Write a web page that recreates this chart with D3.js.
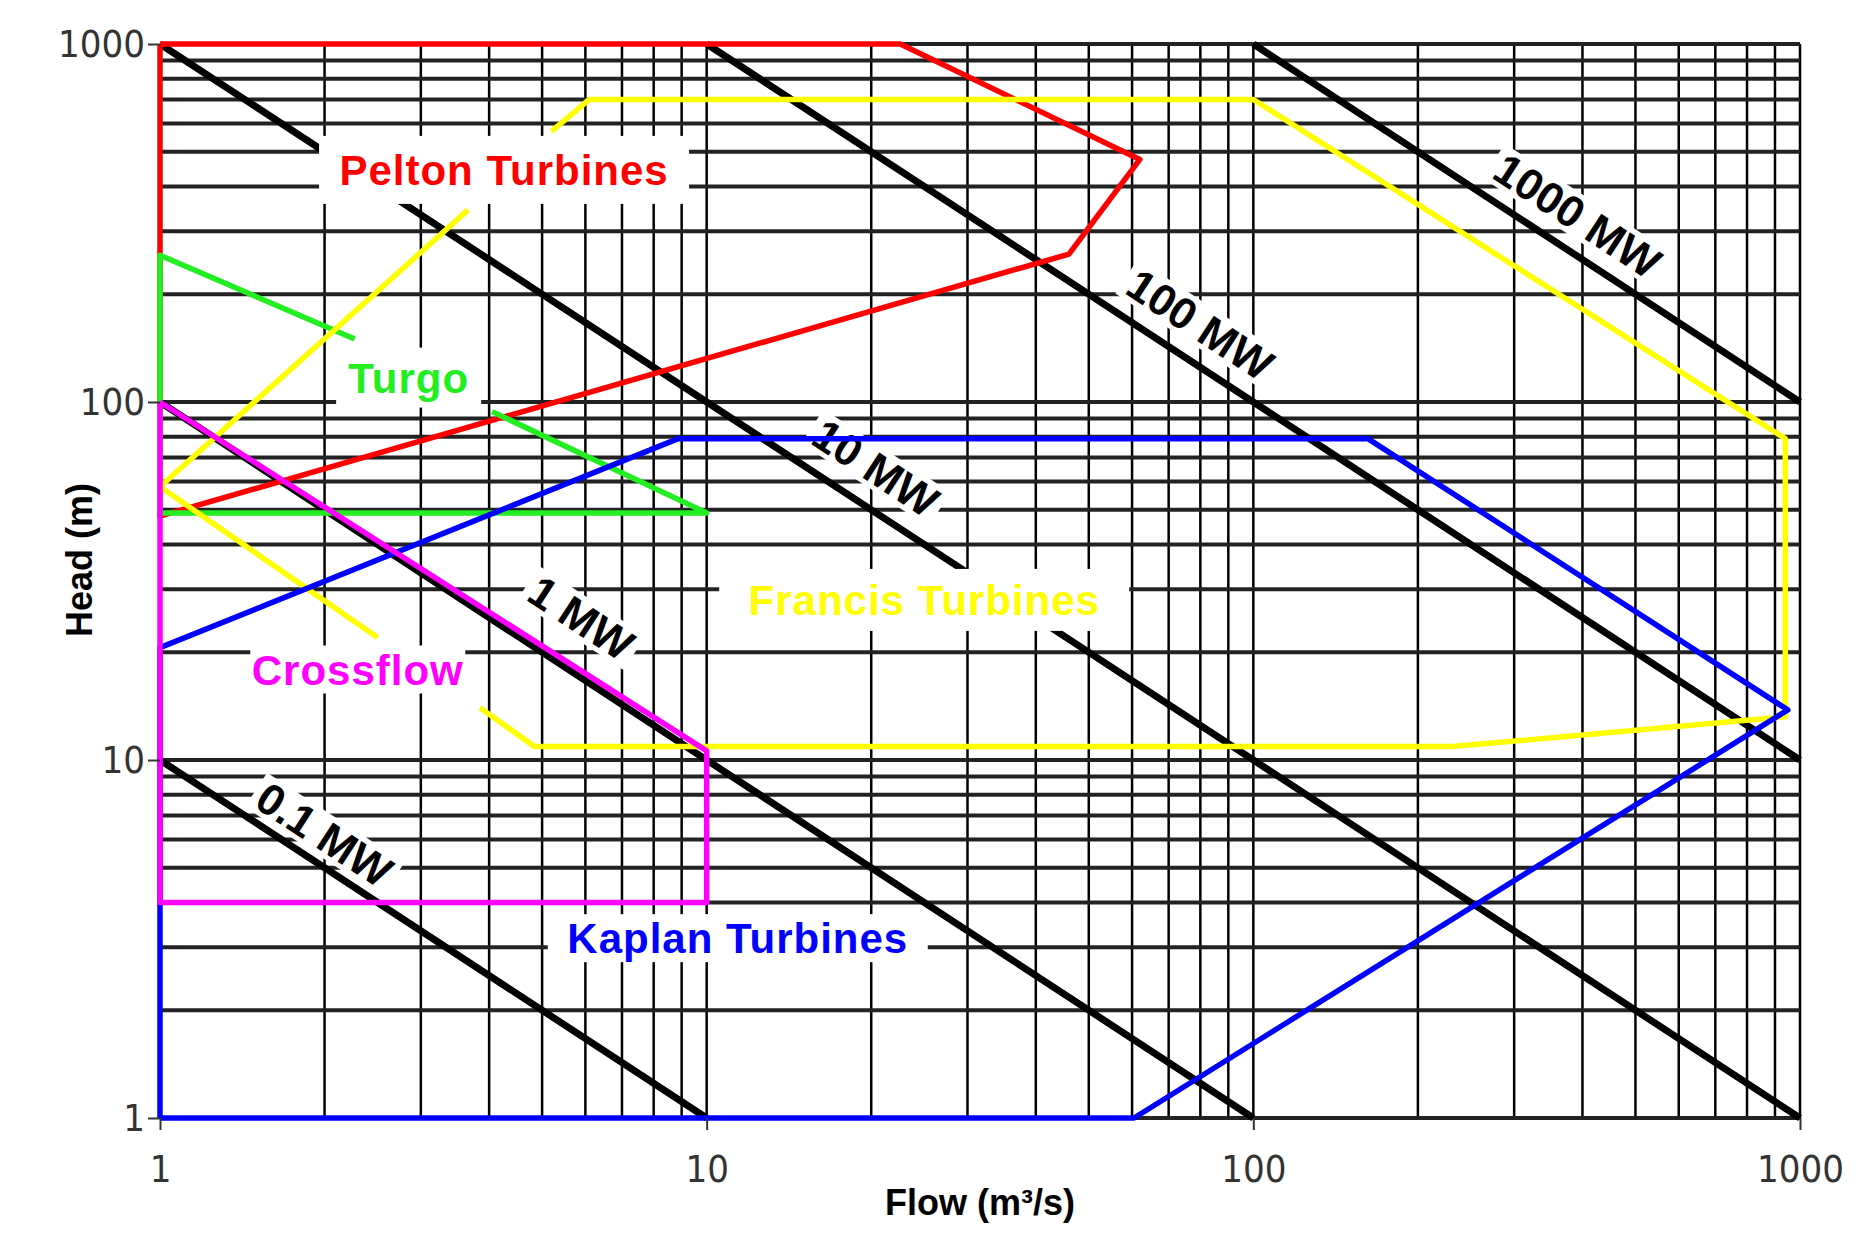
<!DOCTYPE html><html><head><meta charset="utf-8"><script src="https://cdn.jsdelivr.net/npm/d3@7"></script>
<style>body{margin:0;background:#fff}</style></head><body><svg id="c" width="1875" height="1258"></svg>
<script>
const xTicks=[1,10,100,1000], yTicks=[1,10,100,1000];
const powerLines=[[[1,10],[10,1]],[[1,100],[100,1]],[[1,1000],[1000,1]],[[10,1000],[1000,10]],[[100,1000],[1000,100]]];
const pelton=[[1,1000],[22.6,1000],[62,476],[46,259],[1,48],[1,1000]];
const turgoA=[[2.27,150],[1,257],[1,49],[10,49],[4.05,94]];
const francisA=[[3.85,14],[4.84,10.9],[231,10.9],[940,13.2],[940,79],[100,700],[6.1,700],[5.2,570]];
const francisB=[[3.66,344],[1,58],[2.5,22]];
const kaplan=[[1,1],[60.5,1],[950,13.8],[162,79],[8.87,79],[1,20.6],[1,1]];
const crossflow=[[1,100],[10,10.6],[10,4],[1,4],[1,100]];
const labels=[
 {t:"Pelton Turbines",x:4.26,y:445,c:"#ff0000",w:370,h:68},
 {t:"Turgo",x:2.85,y:117,c:"#22ee22",w:145,h:60},
 {t:"Francis Turbines",x:25,y:28,c:"#ffff00",w:410,h:62},
 {t:"Crossflow",x:2.3,y:17.9,c:"#ff00ff",w:215,h:48},
 {t:"Kaplan Turbines",x:11.4,y:3.18,c:"#0000ff",w:380,h:48}];
const mwLabels=[{t:"0.1 MW",x:2.0,y:6.2},{t:"1 MW",x:5.9,y:25},{t:"10 MW",x:20.4,y:65.6},{t:"100 MW",x:80,y:165},{t:"1000 MW",x:392,y:332}];

const svg=d3.select("#c");
const L=160,R=1800,T=44,B=1118;
const x=d3.scaleLog().domain([1,1000]).range([L,R]);
const y=d3.scaleLog().domain([1,1000]).range([B,T]);
const g=svg.append("g");
const minor=[];for(let d=1;d<1000;d*=10)for(let k=1;k<10;k++)minor.push(d*k);minor.push(1000);
g.selectAll(".v").data(minor).join("line").attr("x1",d=>x(d)).attr("x2",d=>x(d)).attr("y1",T).attr("y2",B).attr("stroke","#000").attr("stroke-width",2.5);
g.selectAll(".h").data(minor).join("line").attr("y1",d=>y(d)).attr("y2",d=>y(d)).attr("x1",L).attr("x2",R).attr("stroke","#222").attr("stroke-width",4);
const xa=svg.append("g").attr("transform",`translate(0,${B})`).call(d3.axisBottom(x).tickValues(xTicks).tickFormat(d3.format("d")).tickSize(12));
const ya=svg.append("g").attr("transform",`translate(${L},0)`).call(d3.axisLeft(y).tickValues(yTicks).tickFormat(d3.format("d")).tickSize(12));
[xa,ya].forEach(a=>{a.select(".domain").remove();a.selectAll("text").attr("font-family","Liberation Sans Narrow, DejaVu Sans Condensed, sans-serif").attr("font-size",38).attr("fill","#333");a.selectAll("line").attr("stroke","#333").attr("stroke-width",2);});
xa.selectAll("text").attr("dy","1.3em");
const line=d3.line().x(d=>x(d[0])).y(d=>y(d[1]));
g.selectAll(".p").data(powerLines).join("path").attr("d",line).attr("fill","none").attr("stroke","#000").attr("stroke-width",7);
labels.forEach(l=>{g.append("rect").attr("x",x(l.x)-l.w/2).attr("y",y(l.y)-l.h/2).attr("width",l.w).attr("height",l.h).attr("fill","#fff");});
const ang=-Math.atan((y(1)-y(10))/(x(10)-x(1)))*180/Math.PI;
mwLabels.forEach(l=>{const gg=g.append("g").attr("transform",`translate(${x(l.x)},${y(l.y)}) rotate(${-ang})`);
 const t=gg.append("text").text(l.t).attr("text-anchor","middle").attr("dy","0.36em").attr("font-family","Liberation Sans, Arial, sans-serif").attr("font-weight","bold").attr("font-size",44).attr("fill","#000");
 const bb=t.node().getBBox();gg.insert("rect","text").attr("x",bb.x-6).attr("y",bb.y+4).attr("width",bb.width+12).attr("height",bb.height-8).attr("fill","#fff");});
const shapes=[[pelton,"#ff0000"],[turgoA,"#22ee22"],[francisA,"#ffff00"],[francisB,"#ffff00"],[kaplan,"#0000ff"],[crossflow,"#ff00ff"]];
shapes.forEach(s=>g.append("path").attr("d",line(s[0])).attr("fill","none").attr("stroke",s[1]).attr("stroke-width",5.5).attr("stroke-linejoin","round"));
labels.forEach(l=>{g.append("text").text(l.t).attr("x",x(l.x)).attr("y",y(l.y)).attr("dy","0.36em").attr("text-anchor","middle").attr("font-family","Liberation Sans, Arial, sans-serif").attr("font-weight","bold").attr("font-size",42).attr("fill",l.c).attr("letter-spacing",1);});
svg.append("text").text("Flow (m³/s)").attr("x",980).attr("y",1215).attr("text-anchor","middle").attr("font-family","Liberation Sans, Arial, sans-serif").attr("font-weight","bold").attr("font-size",36);
svg.append("text").text("Head (m)").attr("transform","translate(92,560) rotate(-90)").attr("text-anchor","middle").attr("font-family","Liberation Sans, Arial, sans-serif").attr("font-weight","bold").attr("font-size",36);
</script></body></html>
